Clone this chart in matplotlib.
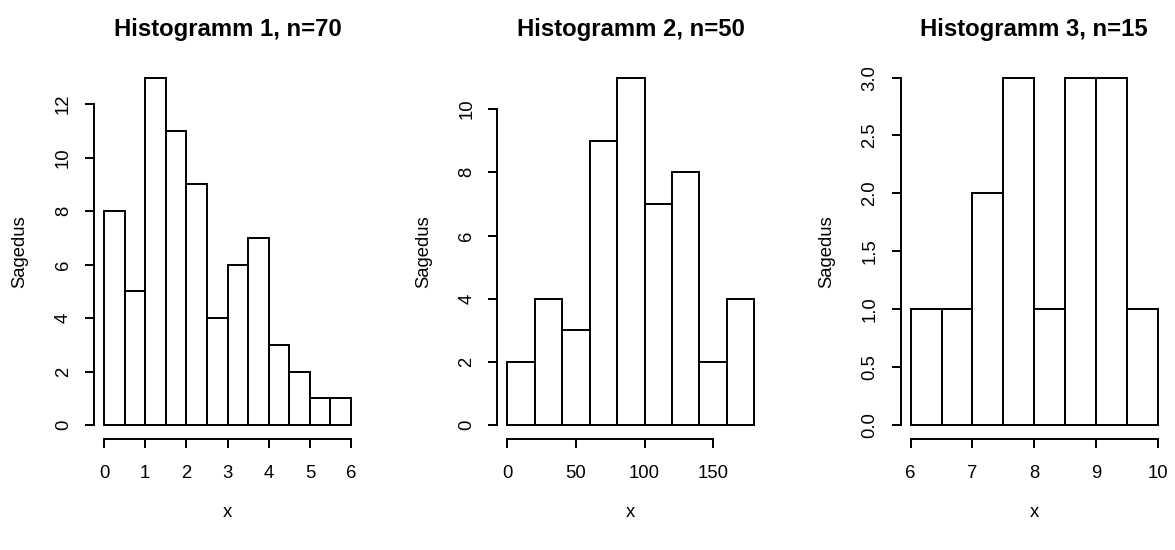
import matplotlib
matplotlib.use("Agg")
import matplotlib.pyplot as plt
import numpy as np

plt.rcParams['font.family'] = ['Liberation Sans', 'DejaVu Sans']

# histogram data
breaks1 = [0, 0.5, 1, 1.5, 2, 2.5, 3, 3.5, 4, 4.5, 5, 5.5, 6]
counts1 = [8, 5, 13, 11, 9, 4, 6, 7, 3, 2, 1, 1]
xticks1 = [0, 1, 2, 3, 4, 5, 6]
yticks1 = [0, 2, 4, 6, 8, 10, 12]

breaks2 = [0, 20, 40, 60, 80, 100, 120, 140, 160, 180]
counts2 = [2, 4, 3, 9, 11, 7, 8, 2, 4]
xticks2 = [0, 50, 100, 150]
yticks2 = [0, 2, 4, 6, 8, 10]

breaks3 = [6, 6.5, 7, 7.5, 8, 8.5, 9, 9.5, 10]
counts3 = [1, 1, 2, 3, 1, 3, 3, 1]
xticks3 = [6, 7, 8, 9, 10]
yticks3 = [0.0, 0.5, 1.0, 1.5, 2.0, 2.5, 3.0]
ylabels3 = ["0.0", "0.5", "1.0", "1.5", "2.0", "2.5", "3.0"]

titles = ["Histogramm 1, n=70", "Histogramm 2, n=50", "Histogramm 3, n=15"]

fig = plt.figure(figsize=(11.75, 5.5), dpi=100)
lefts = [0.0801, 0.4233, 0.7666]


def r_hist(ax, breaks, counts, xticks, yticks, title, ylabels=None):
  breaks = np.array(breaks, dtype=float)
  ax.bar(breaks[:-1], counts, width=np.diff(breaks), align='edge',
         facecolor='white', edgecolor='black', linewidth=1.4)
  rng = breaks[-1] - breaks[0]
  ax.set_xlim(breaks[0] - 0.04 * rng, breaks[-1] + 0.04 * rng)
  top = max(counts)
  ax.set_ylim(-0.04 * top, 1.04 * top)
  ax.set_xticks(xticks)
  ax.set_yticks(yticks)
  if ylabels is not None:
    ax.set_yticklabels(ylabels)
  for s in ['top', 'right']:
    ax.spines[s].set_visible(False)
  ax.spines['left'].set_bounds(yticks[0], yticks[-1])
  ax.spines['bottom'].set_bounds(xticks[0], xticks[-1])
  ax.spines['left'].set_linewidth(1.4)
  ax.spines['bottom'].set_linewidth(1.4)
  ax.tick_params(length=6.5, width=1.4, labelsize=13.3)
  ax.tick_params(axis='x', pad=12)
  ax.tick_params(axis='y', pad=9.5)
  for lab in ax.get_yticklabels():
    lab.set_rotation(90)
    lab.set_va('center')
  ax.set_title(title, fontsize=17.2, fontweight='bold', pad=20)
  ax.set_xlabel("x", fontsize=13.3)
  ax.xaxis.set_label_coords(0.5, -0.197)
  ax.xaxis.label.set_va('center')
  ax.set_ylabel("Sagedus", fontsize=13.3)
  ax.yaxis.set_label_coords(-0.277, 0.5)
  ax.yaxis.label.set_va('center')


data = [(breaks1, counts1, xticks1, yticks1, None),
        (breaks2, counts2, xticks2, yticks2, None),
        (breaks3, counts3, xticks3, yticks3, ylabels3)]

for i in range(3):
  ax = fig.add_axes([lefts[i], 0.2020, 0.2271, 0.6822])
  b, c, xt, yt, yl = data[i]
  r_hist(ax, b, c, xt, yt, titles[i], yl)

plt.savefig('out.png', dpi=100)
